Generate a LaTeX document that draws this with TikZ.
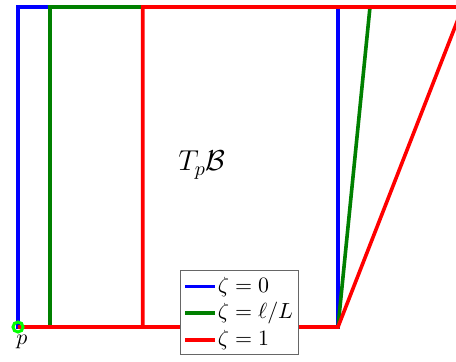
\documentclass[tikz,border=0pt]{standalone}
\usepackage{xcolor}
\usepackage{tikz}
\usepackage{amsmath, amssymb}
\definecolor{dgreen}{rgb}{0,0.5,0}
\definecolor{lime}{rgb}{0,1,0}
\tikzset{
    legtext/.style={anchor=west, inner sep=0pt, font=\fontsize{10.95}{13}\selectfont},
    curve/.style={line width=1.8pt}
}

\begin{document}
\begin{tikzpicture}[x=160pt,y=160pt]
    \clip (-0.05625,-0.10625) rectangle (1.36875,1.021875);
    \draw[curve, blue] (0,0) -- (1,0) -- (1,1) -- (0,1) -- cycle;        % zeta = 0
    \draw[curve, dgreen] (0,0) -- (1,0) -- (1.1,1) -- (0.1,1) -- (0.1,0); % zeta = l/L
    \draw[curve, red] (0,0) -- (1,0) -- (1.39,1) -- (0.39,1) -- (0.39,0);  % zeta = 1

    \node[circle, draw=lime, line width=1.5pt, inner sep=0pt, minimum size=5pt] (p) at (0,0) {};
    \node[font=\fontsize{10.95}{13}\selectfont] (plab) at (0.0125,-0.046) {$p$};
    \node[anchor=west, inner sep=0pt, font=\fontsize{14.4}{17}\selectfont] (tangent) at (0.5,0.506) {$T_p\mathcal{B}$};

    % legend
    \node[draw=black!60, fill=white, line width=0.5pt, inner sep=0pt,
          minimum width=58.6pt, minimum height=42pt] (legend) at (0.692,0.044) {};
    \draw[curve, blue] (0.522,0.126) -- (0.616,0.126);
    \node[legtext] (leg0) at (0.623,0.126) {$\zeta = 0$};
    \draw[curve, dgreen] (0.522,0.043) -- (0.616,0.043);
    \node[legtext] (legl) at (0.623,0.043) {$\zeta = \ell/L$};
    \draw[curve, red] (0.522,-0.041) -- (0.616,-0.041);
    \node[legtext] (leg1) at (0.623,-0.041) {$\zeta = 1$};
\end{tikzpicture}
\end{document}
